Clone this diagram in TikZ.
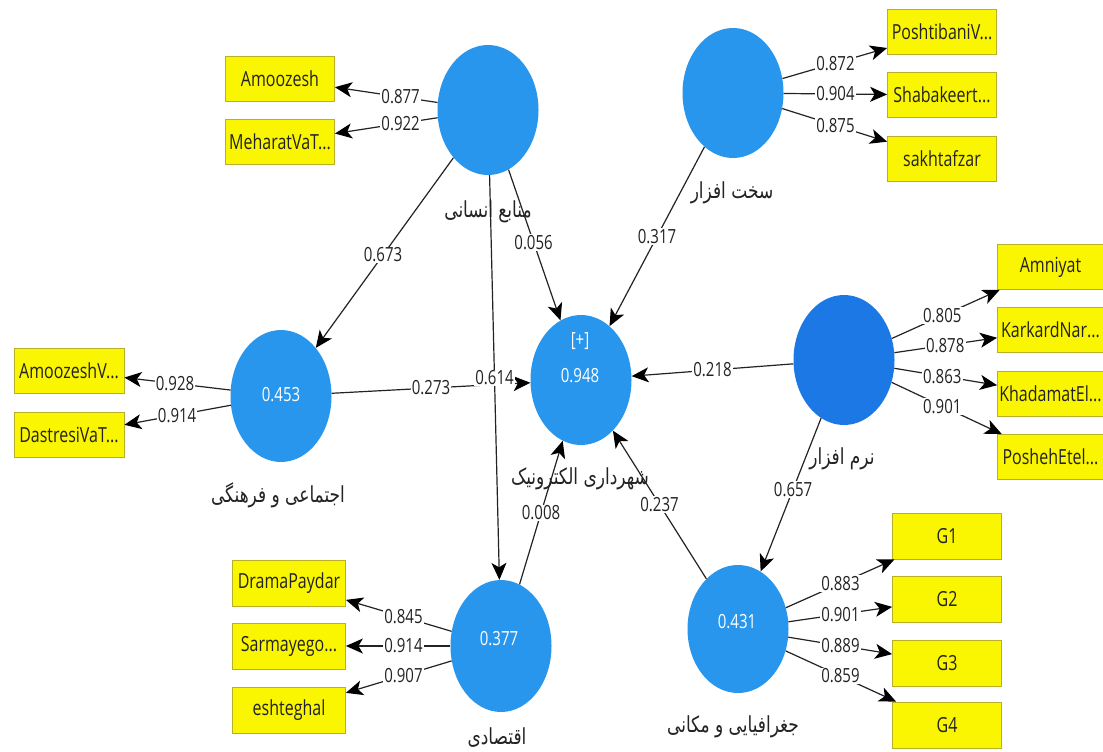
\documentclass[tikz,border=0pt]{standalone}
\usepackage{fontspec}
\setmainfont{Open Sans}
\newfontfamily\fafont[Script=Arabic]{DejaVu Sans}
\TeXXeTstate=1
\usetikzlibrary{shapes.geometric,arrows.meta,calc}
\definecolor{lvblue}{RGB}{40,150,236}
\definecolor{lvdark}{RGB}{28,120,228}
\definecolor{mvyel}{RGB}{250,245,0}
\definecolor{mvbord}{RGB}{185,175,40}
\definecolor{ink}{RGB}{35,35,35}
\newcommand{\VS}[1]{\scalebox{1}[1.3]{#1}}
\newcommand{\FA}[1]{\scalebox{1}[1.3]{\fafont\beginR #1\endR}}
\begin{document}
\begin{tikzpicture}[x=1pt,y=-1pt,
 lv/.style={ellipse, fill=lvblue, draw=none, minimum width=101pt, minimum height=130pt, inner sep=0pt},
 lvval/.style={text=white, inner sep=0pt, font=\fontsize{15}{15}\selectfont},
 mv/.style={rectangle, fill=mvyel, draw=mvbord, line width=0.8pt, minimum width=109pt, minimum height=45pt, inner sep=0pt, text=ink, font=\fontsize{16}{16}\selectfont},
 lbl/.style={fill=white, inner sep=1.2pt, text=ink, font=\fontsize{15}{15}\selectfont},
 lvname/.style={text=ink, inner sep=0pt, font=\fontsize{17}{17}\selectfont},
 conn/.style={draw=ink, line width=1.2pt, -{Stealth[length=17pt,width=15pt,inset=4.5pt,color=black]}}
]
\useasboundingbox (0,0) rectangle (1103,752);
\fill[white] (0,0) rectangle (1103,752);

% latent variables
\node[lv] (hr) at (488,110) {};
\node[lv] (hw) at (733,93) {};
\node[lv, fill=lvdark] (sw) at (844,360) {};
\node[lv, minimum height=132pt] (sc) at (281,396) {};
\node[lv] (em) at (581,380) {};
\node[lv, minimum height=132pt] (ec) at (501,646) {};
\node[lv, minimum height=128pt] (ge) at (738,629) {};

\node[lvval] (scv) at (281,395) {\VS{0.453}};
\node[lvval] (emp) at (580,341) {\VS{[+]}};
\node[lvval] (emv) at (580,376) {\VS{0.948}};
\node[lvval] (ecv) at (499,639) {\VS{0.377}};
\node[lvval] (gev) at (737,622) {\VS{0.431}};

% indicators
\node[mv] (amo) at (280,79) {\VS{Amoozesh}};
\node[mv] (meh) at (280,142) {\VS{MeharatVaT...}};
\node[mv] (posht) at (942,32) {\VS{PoshtibaniV...}};
\node[mv] (shab) at (942,95) {\VS{Shabakeert...}};
\node[mv] (sakht) at (942,159) {\VS{sakhtafzar}};
\node[mv, minimum width=106pt] (amn) at (1050.5,267) {\VS{Amniyat}};
\node[mv, minimum width=106pt] (kar) at (1050.5,330) {\VS{KarkardNar...}};
\node[mv, minimum width=106pt] (khad) at (1050.5,394) {\VS{KhadamatEl...}};
\node[mv, minimum width=106pt] (posh) at (1050.5,457) {\VS{PoshehEtel...}};
\node[mv, minimum width=110pt] (amv) at (69,371) {\VS{AmoozeshV...}};
\node[mv, minimum width=110pt] (das) at (69,435) {\VS{DastresiVaT...}};
\node[mv, minimum width=113pt, minimum height=46pt] (dram) at (289,583) {\VS{DramaPaydar}};
\node[mv, minimum width=113pt, minimum height=46pt] (sarm) at (289,646) {\VS{Sarmayego...}};
\node[mv, minimum width=113pt, minimum height=46pt] (esht) at (289,710) {\VS{eshteghal}};
\node[mv, minimum height=46pt] (g1) at (947,536) {\VS{G1}};
\node[mv, minimum height=46pt] (g2) at (947,599) {\VS{G2}};
\node[mv, minimum height=46pt] (g3) at (947,663) {\VS{G3}};
\node[mv, minimum height=46pt] (g4) at (947,725) {\VS{G4}};

% outer model connectors
\draw[conn] (hr) -- (amo);
\draw[conn] (hr) -- (meh);
\draw[conn] (hw) -- (posht);
\draw[conn] (hw) -- (shab);
\draw[conn] (hw) -- (sakht);
\draw[conn] (sw) -- (amn);
\draw[conn] (sw) -- (kar);
\draw[conn] (sw) -- (khad);
\draw[conn] (sw) -- (posh);
\draw[conn] (sc) -- (amv);
\draw[conn] (sc) -- (das);
\draw[conn] (ec) -- (dram);
\draw[conn] (ec) -- (sarm);
\draw[conn] (ec) -- (esht);
\draw[conn] (ge) -- (g1);
\draw[conn] (ge) -- (g2);
\draw[conn] (ge) -- (g3);
\draw[conn] (ge) -- (g4);

% inner model connectors
\draw[conn] (hr) -- (sc);
\draw[conn] (hr) -- (ec);
\draw[conn] (hr) -- (em);
\draw[conn] (hw) -- (em);
\draw[conn] (sc) -- (em);
\draw[conn] (sw) -- (em);
\draw[conn] (sw) -- (ge);
\draw[conn] (ec) -- (em);
\draw[conn] (ge) -- (em);

% loading labels
\node[lbl] (l1) at ($(hr.center)!0.42!(amo.center)$) {\VS{0.877}};
\node[lbl] (l2) at ($(hr.center)!0.42!(meh.center)$) {\VS{0.922}};
\node[lbl] (l3) at ($(hw.center)!0.49!(posht.center)$) {\VS{0.872}};
\node[lbl] (l4) at ($(hw.center)!0.49!(shab.center)$) {\VS{0.904}};
\node[lbl] (l5) at ($(hw.center)!0.49!(sakht.center)$) {\VS{0.875}};
\node[lbl] (l6) at ($(sw.center)!0.476!(amn.center)$) {\VS{0.805}};
\node[lbl] (l7) at ($(sw.center)!0.49!(kar.center)$) {\VS{0.878}};
\node[lbl] (l8) at ($(sw.center)!0.476!(khad.center)$) {\VS{0.863}};
\node[lbl] (l9) at ($(sw.center)!0.476!(posh.center)$) {\VS{0.901}};
\node[lbl] (l10) at ($(sc.center)!0.5!(amv.center)$) {\VS{0.928}};
\node[lbl] (l11) at ($(sc.center)!0.49!(das.center)$) {\VS{0.914}};
\node[lbl] (l12) at ($(ec.center)!0.46!(dram.center)$) {\VS{0.845}};
\node[lbl] (l13) at ($(ec.center)!0.46!(sarm.center)$) {\VS{0.914}};
\node[lbl] (l14) at ($(ec.center)!0.46!(esht.center)$) {\VS{0.907}};
\node[lbl] (l15) at ($(ge.center)!0.49!(g1.center)$) {\VS{0.883}};
\node[lbl] (l16) at ($(ge.center)!0.49!(g2.center)$) {\VS{0.901}};
\node[lbl] (l17) at ($(ge.center)!0.49!(g3.center)$) {\VS{0.889}};
\node[lbl] (l18) at ($(ge.center)!0.49!(g4.center)$) {\VS{0.859}};

% path coefficient labels
\node[lbl] (p1) at ($(hr.center)!0.507!(sc.center)$) {\VS{0.673}};
\node[lbl] (p2) at ($(hr.center)!0.5!(ec.center)$) {\VS{0.614}};
\node[lbl] (p3) at ($(hr.center)!0.49!(em.center)$) {\VS{0.056}};
\node[lbl] (p4) at ($(hw.center)!0.5!(em.center)$) {\VS{0.317}};
\node[lbl] (p5) at ($(sc.center)!0.5!(em.center)$) {\VS{0.273}};
\node[lbl] (p6) at ($(sw.center)!0.5!(em.center)$) {\VS{0.218}};
\node[lbl] (p7) at ($(sw.center)!0.48!(ge.center)$) {\VS{0.657}};
\node[lbl] (p8) at ($(ec.center)!0.5!(em.center)$) {\VS{0.008}};
\node[lbl] (p9) at ($(ge.center)!0.5!(em.center)$) {\VS{0.237}};

% construct names
\node[lvname] (hrn) at (488,212) {\FA{منابع انسانی}};
\node[lvname] (hwn) at (732,193) {\FA{سخت افزار}};
\node[lvname] (swn) at (842,459) {\FA{نرم افزار}};
\node[lvname] (scn) at (278,495) {\FA{اجتماعی و فرهنگی}};
\node[lvname] (emn) at (580,479) {\FA{شهرداری الکترونیک}};
\node[lvname] (ecn) at (497,738) {\FA{اقتصادی}};
\node[lvname] (gen) at (733,727) {\FA{جغرافیایی و مکانی}};
\end{tikzpicture}
\end{document}
